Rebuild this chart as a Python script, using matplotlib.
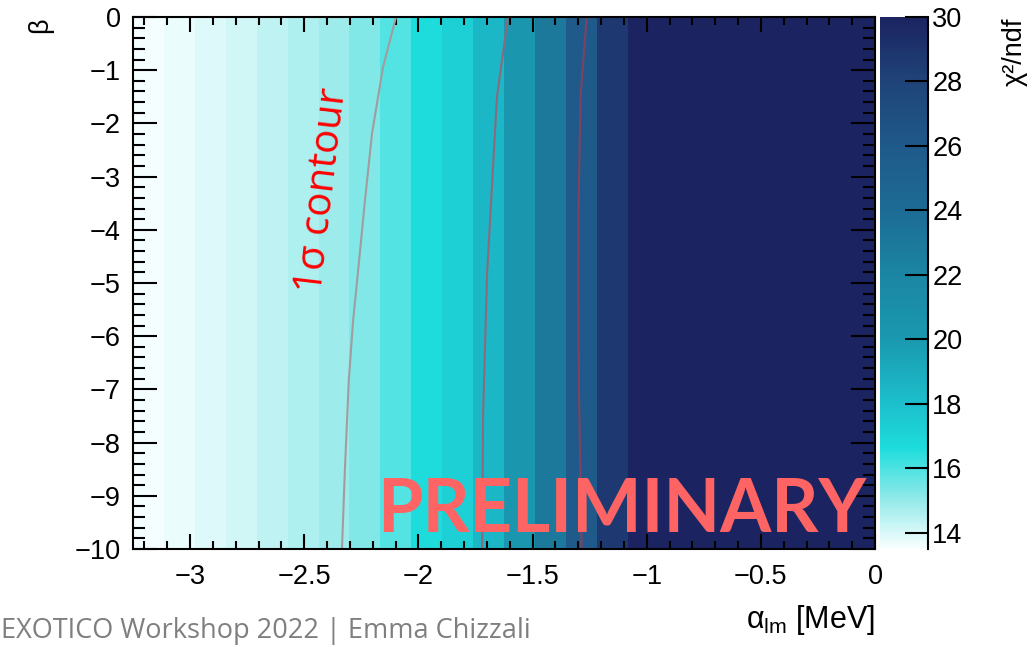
import numpy as np
import matplotlib
matplotlib.use("Agg")
import matplotlib.pyplot as plt
from matplotlib.colors import LinearSegmentedColormap, Normalize
from matplotlib.ticker import MultipleLocator, FuncFormatter

plt.rcParams['font.family'] = ['Liberation Sans', 'DejaVu Sans']
plt.rcParams['mathtext.fontset'] = 'custom'
plt.rcParams['mathtext.rm'] = 'Liberation Sans'
plt.rcParams['mathtext.it'] = 'Liberation Sans'

# chi2/ndf per alpha bin (24 bins from -3.25 to 0), constant along beta
alpha_lo, alpha_hi, n_bins = -3.25, 0.0, 24
chi2_bins = [13.57, 13.72, 13.92, 14.13, 14.36, 14.63, 14.91, 15.25,
             15.9, 16.6, 17.2, 18.4, 20.2, 23.0, 26.0, 28.7,
             32, 36, 41, 47, 54, 62, 71, 81]
beta_edges = [-10, 0]

# contour lines (beta, alpha)
c1_beta = [0.0, -0.94, -2.18, -3.44, -4.19, -5.10, -5.70, -6.82, -8.5, -10.0]
c1_alpha = [-2.098, -2.155, -2.203, -2.234, -2.251, -2.272, -2.286, -2.305,
            -2.322, -2.335]
c2_beta = [0.0, -1.5, -2.8, -4.8, -7.5, -10.0]
c2_alpha = [-1.608, -1.656, -1.673, -1.699, -1.717, -1.721]
c3_beta = [0.0, -1.5, -3.4, -5.0, -7.0, -10.0]
c3_alpha = [-1.263, -1.290, -1.298, -1.300, -1.297, -1.285]

zmin, zmax = 13.5, 30.0
nodes = [(13.5, '#f8ffff'), (15.0, '#93e9e9'), (16.0, '#4ce2e2'),
         (16.6, '#1edcdc'), (18.0, '#1cbfcc'), (20.0, '#1a99b0'),
         (22.0, '#1b86a4'), (24.0, '#1d6c95'), (26.0, '#1f5a8a'),
         (28.0, '#1f4479'), (30.0, '#1b2461')]
cmap = LinearSegmentedColormap.from_list(
    'chi', [((v - zmin) / (zmax - zmin), c) for v, c in nodes])
cmap.set_over('#1b2461')


def fmt(v, pos):
    return ('%g' % v).replace('-', '\u2212')


fig = plt.figure(figsize=(10.33, 6.47), dpi=100)
ax = fig.add_axes([0.1288, 0.1515, 0.7183, 0.8222])
cax = fig.add_axes([0.852, 0.1515, 0.0465, 0.8222])

alpha_edges = np.linspace(alpha_lo, alpha_hi, n_bins + 1)
z = np.array([chi2_bins])
mesh = ax.pcolormesh(alpha_edges, beta_edges, z, cmap=cmap,
                     norm=Normalize(zmin, zmax), shading='flat')

ax.plot(c1_alpha, c1_beta, color='#a39c9e', lw=1.5)
ax.plot(c2_alpha, c2_beta, color='#8a6a7c', lw=1.5)
ax.plot(c3_alpha, c3_beta, color='#7f4262', lw=1.5)

ax.set_xlim(alpha_lo, alpha_hi)
ax.set_ylim(-10, 0)
ax.xaxis.set_major_locator(MultipleLocator(0.5))
ax.xaxis.set_minor_locator(MultipleLocator(0.1))
ax.yaxis.set_major_locator(MultipleLocator(1))
ax.yaxis.set_minor_locator(MultipleLocator(0.2))
ax.xaxis.set_major_formatter(FuncFormatter(fmt))
ax.yaxis.set_major_formatter(FuncFormatter(fmt))
ax.tick_params(axis='both', which='both', direction='in', top=True,
               right=True, width=1.5, labelsize=19.5)
ax.tick_params(axis='x', which='major', length=10.5, pad=11)
ax.tick_params(axis='x', which='minor', length=5.5)
ax.tick_params(axis='y', which='major', length=17, pad=9)
ax.tick_params(axis='y', which='minor', length=8.5)
for s in ax.spines.values():
    s.set_linewidth(1.5)

ax.text(-2.42, -3.25, '1σ contour', color='#ff0000', rotation=83.3,
        ha='center', va='center', fontsize=29, family='Open Sans')
ax.text(-0.04, -9.68, 'PRELIMINARY', color='#ff6464', ha='right',
        va='baseline', fontsize=53, fontweight='bold', family='Lato')

cb = fig.colorbar(mesh, cax=cax, extend='neither')
cb.outline.set_visible(False)
cb.set_ticks([14, 16, 18, 20, 22, 24, 26, 28, 30])
cax.tick_params(direction='in', length=16.5, width=1.5, pad=3,
                labelsize=19.5)
cax.plot([1, 1], [0, 1], transform=cax.transAxes, color='black',
         lw=1.5, clip_on=False)

fig.text(0.8475, 0.030, r'$\alpha_{\mathrm{lm}}$ [MeV]', ha='right',
         va='baseline', fontsize=22)
fig.text(0.039, 0.9737, 'β', rotation=90, ha='center', va='top',
         fontsize=19.5)
fig.text(0.982, 0.9737, 'χ²/ndf', rotation=90, ha='center', va='top',
         fontsize=19.5)
fig.text(0.001, 0.014, 'EXOTICO Workshop 2022 | Emma Chizzali',
         color='#7f7f7f', ha='left', va='baseline', fontsize=19.5,
         family='Open Sans')

fig.savefig('out.png', dpi=100)
